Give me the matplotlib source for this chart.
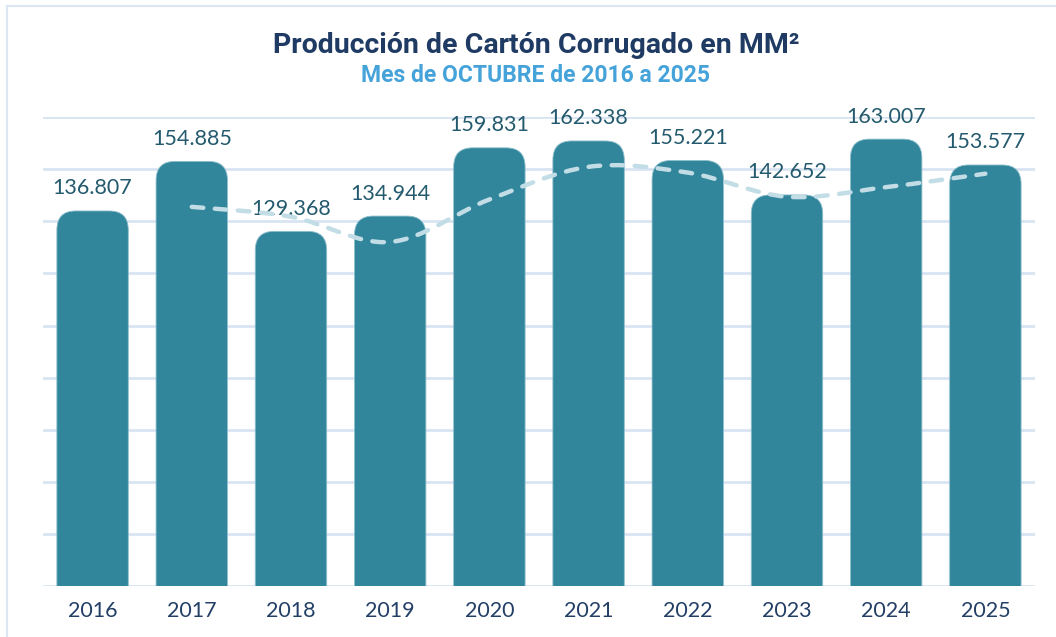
import numpy as np
import matplotlib
matplotlib.use("Agg")
import matplotlib.pyplot as plt
from matplotlib.patches import FancyBboxPatch, PathPatch, Rectangle
from matplotlib.path import Path

years = ["2016", "2017", "2018", "2019", "2020", "2021", "2022", "2023", "2024", "2025"]
production = [136.807, 154.885, 129.368, 134.944, 159.831, 162.338, 155.221, 142.652, 163.007, 153.577]
labels = ["136.807", "154.885", "129.368", "134.944", "159.831",
          "162.338", "155.221", "142.652", "163.007", "153.577"]

# trend (dashed) line, starts at 2017
trend_years = ["2017", "2018", "2019", "2020", "2021", "2022", "2023", "2024", "2025"]
trend_values = [138.3, 134.7, 125.5, 141.0, 152.9, 150.8, 142.0, 145.5, 150.4]

bar_color = "#31869B"
label_color = "#245A6E"
tick_color = "#243F66"
grid_color = "#D9E4F2"
line_color = "#C2DDE6"

plt.rcParams["font.family"] = ["Lato", "DejaVu Sans"]

fig = plt.figure(figsize=(10.56, 6.37), dpi=100)
ax = fig.add_axes([0.0407, 0.080, 0.9394, 0.736])

x = np.arange(len(years))
ax.set_xlim(-0.5, len(years) - 0.5)
ax.set_ylim(0, 171)
ax.set_yticks(np.arange(0, 172, 19))
ax.yaxis.grid(True, color=grid_color, linewidth=2)
ax.set_axisbelow(True)

# plain bars first, then swap each one for a round-topped box
bars = ax.bar(x, production, width=0.72, color=bar_color)
rx, ry = 0.19, 6.9
for b in bars:
    patch = FancyBboxPatch(
        (b.get_x(), -ry), b.get_width(), b.get_height() + ry,
        boxstyle=f"round,pad=0,rounding_size={rx}",
        mutation_aspect=ry / rx,
        facecolor=bar_color, edgecolor="#8FBFCD", linewidth=0.6,
        zorder=2,
    )
    ax.add_patch(patch)
    b.remove()

# value labels
for xi, v, txt in zip(x, production, labels):
    ax.annotate(txt, (xi, v), xytext=(0, 9), textcoords="offset points",
                ha="center", va="bottom", fontsize=15.5, color=label_color,
                zorder=3)

# smooth dashed trend line (cubic bezier through the points)
tx = np.array([years.index(y) for y in trend_years], dtype=float)
ty = np.array(trend_values, dtype=float)
pts = np.column_stack([tx, ty])
verts = [pts[0]]
codes = [Path.MOVETO]
for i in range(len(pts) - 1):
    p0 = pts[i - 1] if i > 0 else pts[i]
    p1 = pts[i]
    p2 = pts[i + 1]
    p3 = pts[i + 2] if i + 2 < len(pts) else pts[i + 1]
    verts += [p1 + (p2 - p0) / 6, p2 - (p3 - p1) / 6, p2]
    codes += [Path.CURVE4] * 3
trend = PathPatch(Path(verts, codes), fill=False, edgecolor=line_color,
                  linewidth=3.2, linestyle=(0, (2.6, 2.6)), capstyle="round",
                  zorder=4)
ax.add_patch(trend)

ax.set_xticks(x)
ax.set_xticklabels(years, fontsize=15.5, color=tick_color)
ax.tick_params(axis="x", length=0, pad=11)
ax.tick_params(axis="y", length=0, labelleft=False)
for s in ax.spines.values():
    s.set_visible(False)

fig.text(0.508, 0.929, "Producción de Cartón Corrugado en MM²",
         ha="center", va="center", fontsize=20.5, fontweight="bold",
         color="#1F3B63", family=["Roboto", "DejaVu Sans"])
fig.text(0.507, 0.881, "Mes de OCTUBRE de 2016 a 2025",
         ha="center", va="center", fontsize=16.5, fontweight="bold",
         color="#45A3DA", family=["Roboto", "DejaVu Sans"])

# light frame around the chart
fig.patches.append(Rectangle((7 / 1056, -0.1), 1.2, 1 - 6 / 637 + 0.1,
                             transform=fig.transFigure, fill=False,
                             edgecolor="#DCE6F2", linewidth=1.5))

fig.savefig("out.png", dpi=100)
